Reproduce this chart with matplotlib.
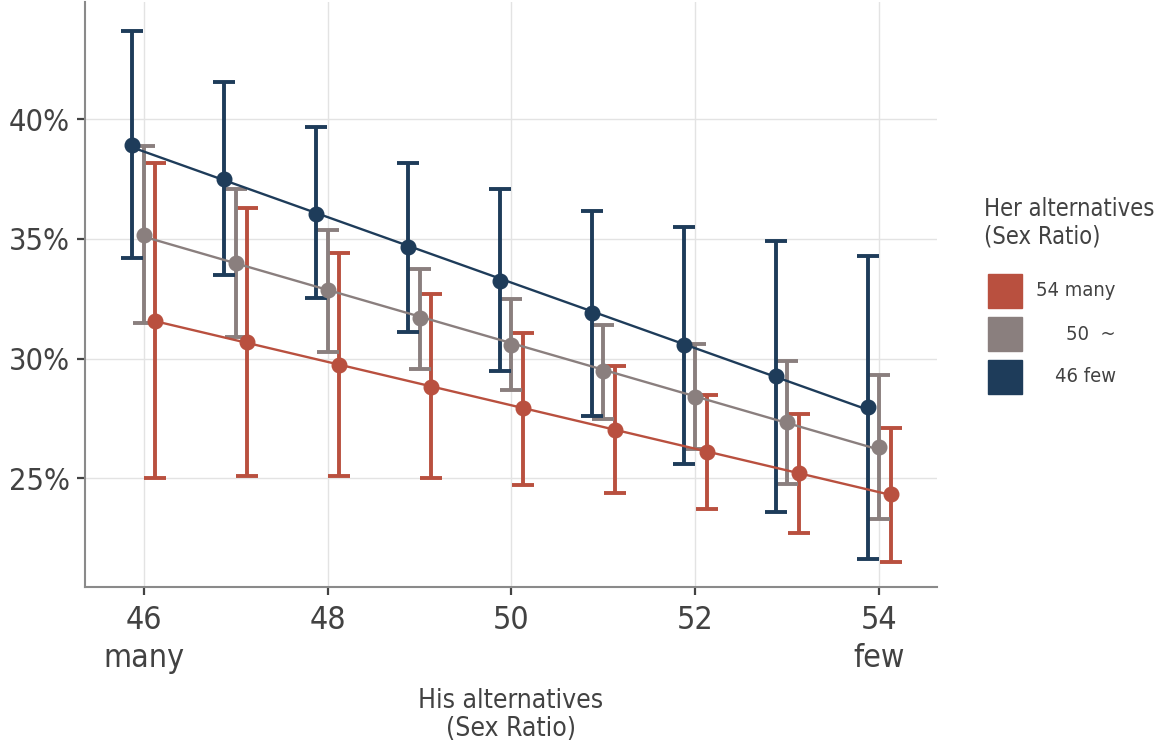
import numpy as np
import matplotlib
matplotlib.use("Agg")
import matplotlib.pyplot as plt
from matplotlib import font_manager
from matplotlib.patches import Rectangle

# pick a narrow face if one is installed (the original uses a condensed font)
narrow = None
for f in font_manager.fontManager.ttflist:
    if f.name == 'Liberation Sans Narrow':
        narrow = ('Liberation Sans Narrow', 'normal')
        break
if narrow is None:
    for f in font_manager.fontManager.ttflist:
        if f.name == 'DejaVu Sans' and 'condensed' in str(f.stretch):
            narrow = ('DejaVu Sans', 'condensed')
            break
if narrow is None:
    narrow = ('DejaVu Sans', 'normal')
plt.rcParams['font.family'] = [narrow[0], 'DejaVu Sans']
plt.rcParams['font.stretch'] = narrow[1]

# his sex ratio (x axis)
his_ratio = [46, 47, 48, 49, 50, 51, 52, 53, 54]

# her sex ratio groups, % values
few_mean = [38.93, 37.50, 36.04, 34.64, 33.26, 31.89, 30.57, 29.25, 27.99]
few_low = [34.18, 33.49, 32.51, 31.10, 29.49, 27.58, 25.60, 23.60, 21.60]
few_high = [43.67, 41.57, 39.67, 38.17, 37.07, 36.17, 35.49, 34.90, 34.28]

mid_mean = [35.18, 34.00, 32.85, 31.71, 30.57, 29.46, 28.38, 27.33, 26.29]
mid_low = [31.47, 30.89, 30.28, 29.58, 28.68, 27.49, 26.20, 24.74, 23.28]
mid_high = [38.88, 37.07, 35.36, 33.76, 32.49, 31.39, 30.60, 29.88, 29.29]

many_mean = [31.57, 30.68, 29.74, 28.80, 27.93, 27.00, 26.11, 25.22, 24.32]
many_low = [24.99, 25.08, 25.10, 24.99, 24.71, 24.39, 23.69, 22.71, 21.51]
many_high = [38.17, 36.29, 34.39, 32.68, 31.07, 29.70, 28.49, 27.68, 27.10]

legend_labels = ['54 many', '50  ~', '46 few']
colors = {'many': '#B9503F', 'mid': '#8A7F7E', 'few': '#1E3C5A'}
txt = '#424242'

fig = plt.figure(figsize=(11.6, 7.47), dpi=100)
ax = fig.add_axes([85/1160, 1 - 587/747, 852/1160, 585/747])

x = np.array(his_ratio, dtype=float)
groups = [
    ('many', many_mean, many_low, many_high, 0.125),
    ('mid', mid_mean, mid_low, mid_high, 0.0),
    ('few', few_mean, few_low, few_high, -0.125),
]

for key, m, lo, hi, off in groups:
    xs = x + off
    m = np.array(m); lo = np.array(lo); hi = np.array(hi)
    c = colors[key]
    ax.errorbar(xs, m, yerr=[m - lo, hi - m], fmt='o', color=c, ms=10.5,
                elinewidth=2.8, capsize=8, capthick=2.8, zorder=3)
    k, b = np.polyfit(xs, m, 1)
    ax.plot([xs[0], xs[-1]], [k * xs[0] + b, k * xs[-1] + b], color=c, lw=1.7, zorder=4)

ax.set_xlim(45.36, 54.63)
ax.set_ylim(20.45, 44.9)
ax.set_xticks([46, 48, 50, 52, 54])
ax.set_xticklabels(['46\nmany', '48', '50', '52', '54\nfew'])
ax.set_yticks([25, 30, 35, 40])
ax.set_yticklabels(['25%', '30%', '35%', '40%'])

for s in ['top', 'right']:
    ax.spines[s].set_visible(False)
for s in ['left', 'bottom']:
    ax.spines[s].set_color('#8a8a8a')
    ax.spines[s].set_linewidth(1.5)

ax.grid(True, color='#e3e3e3', lw=1.0, zorder=0)
ax.set_axisbelow(True)
ax.tick_params(axis='both', colors=txt, length=6, width=1.6)
ax.tick_params(axis='y', labelsize=22, pad=5)
ax.tick_params(axis='x', labelsize=23, pad=7)
for t in ax.get_xticklabels():
    t.set_linespacing(1.3)

ax.set_xlabel('His alternatives\n(Sex Ratio)', fontsize=19, color=txt, linespacing=1.1)
ax.xaxis.set_label_coords(0.5, -0.172)

# legend drawn by hand
fig.text(984/1160, 1 - 197/747, 'Her alternatives\n(Sex Ratio)', fontsize=17,
         color=txt, va='top', ha='left', linespacing=1.2)
box_tops = [274, 317, 360]
for key, lab, top in zip(['many', 'mid', 'few'], legend_labels, box_tops):
    fig.add_artist(Rectangle((988/1160, 1 - (top + 34)/747), 34/1160, 34/747,
                             transform=fig.transFigure, color=colors[key]))
    fig.text(1116/1160, 1 - (top + 17)/747, lab, fontsize=14.5, color=txt,
             ha='right', va='center')

fig.savefig('out.png', dpi=100)
